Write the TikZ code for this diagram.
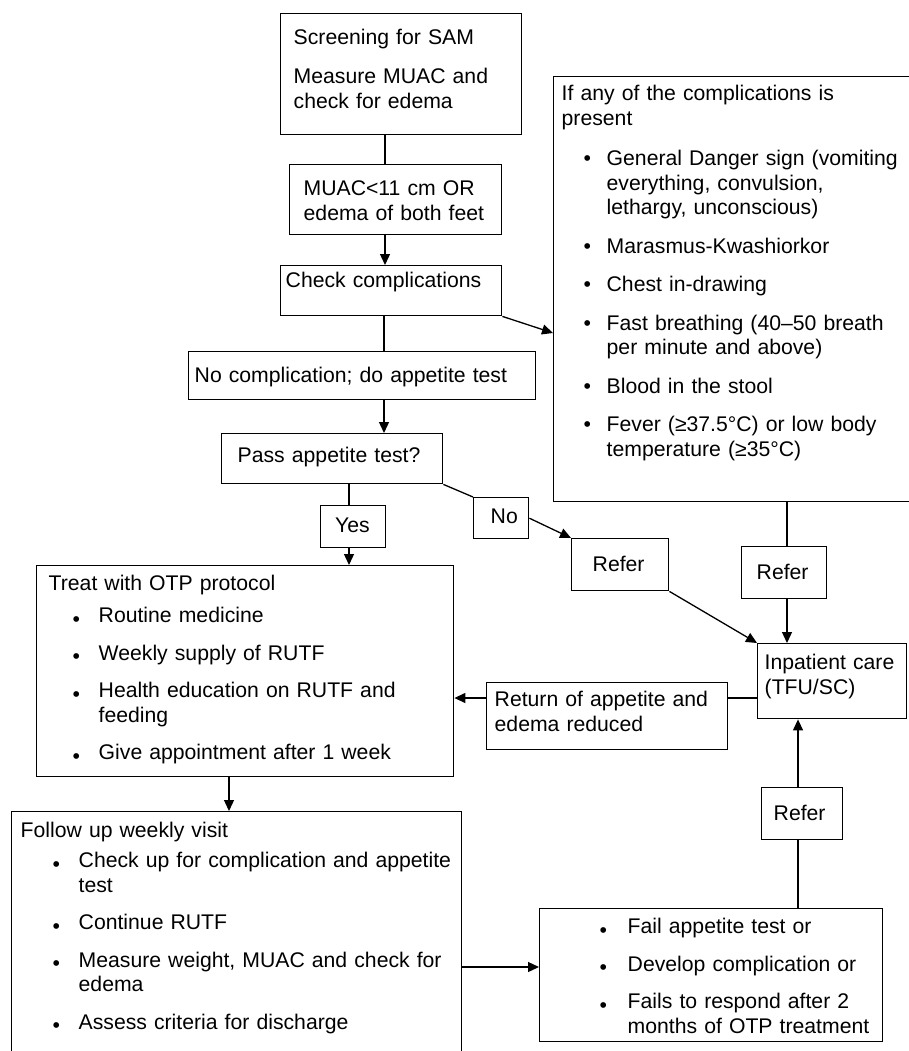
\documentclass[tikz,border=0pt]{standalone}
\usepackage{fontspec}
\setmainfont{Liberation Sans}
\usetikzlibrary{arrows.meta}

\newlength\bpos
\newlength\tpos
\newcommand\boxfont{\fontsize{21.2}{24.5}\selectfont\hyphenpenalty=10000\relax}
% bullet lists inside the boxes
\newcommand\bull[1]{\hangindent=\tpos\hangafter=1\hbox to \tpos{\hskip\bpos#1\hss}\ignorespaces}
\newcommand\itm[1][14pt]{\par\vspace{#1}\noindent\bull{\textbullet}}
\newcommand\ditm[1][13pt]{\par\vspace{#1}\noindent\bull{\raisebox{-3.5pt}{\textbullet}}}

\begin{document}
\begin{tikzpicture}[x=1pt, y=-1pt,
    box/.style={draw, line width=1.4pt, anchor=north west, inner ysep=0pt, align=left, font=\boxfont},
    ln/.style={line width=1.3pt},
    arr/.style={ln, -{Triangle[length=11pt,width=10pt]}}]

    \useasboundingbox (0,0) rectangle (908,1051);

    % Define the boxes
    \node[box, text width=215pt, inner xsep=13pt, text height=31pt, text depth=90pt] (screen) at (280,13)
        {Screening for SAM\\[14.5pt]Measure MUAC and\\check for edema};
    \node[box, text width=184pt, inner xsep=14pt, text height=31pt, text depth=39pt] (muac) at (289,164)
        {MUAC<11 cm OR\\edema of both feet};
    \node[box, text width=211pt, inner xsep=5pt, text height=22pt, text depth=28pt] (check) at (280,265)
        {Check complications};
    \node[box, text width=343pt, inner xsep=8pt, text height=24pt, text depth=401pt] (compl) at (553,76)
        {\bpos=22pt \tpos=45pt
        If any of the complications is\\present
        \itm[16pt] General Danger sign (vomiting\newline everything, convulsion,\newline lethargy, unconscious)
        \itm Marasmus-Kwashiorkor
        \itm Chest in-drawing
        \itm Fast breathing (40–50 breath\newline per minute and above)
        \itm Blood in the stool
        \itm Fever (≥37.5°C) or low body\newline temperature (≥35°C)\par};
    \node[box, text width=335pt, inner xsep=6pt, text height=31pt, text depth=17pt] (nocomp) at (188,351)
        {No complication; do appetite test};
    \node[box, text width=189pt, inner xsep=16pt, text height=29pt, text depth=21pt] (pass) at (221,433)
        {Pass appetite test?};
    \node[box, text width=36pt, inner xsep=14.5pt, text height=27pt, text depth=15pt] (yes) at (320,505) {Yes};
    \node[box, text width=21pt, inner xsep=17pt, text height=26pt, text depth=15pt] (no) at (473,497) {No};
    \node[box, text width=55pt, inner xsep=21pt, text height=33pt, text depth=19pt] (refer1) at (571,538) {Refer};
    \node[box, text width=55pt, inner xsep=15pt, text height=33pt, text depth=19pt] (refer2) at (741,546) {Refer};
    \node[box, text width=135pt, inner xsep=7pt, text height=26pt, text depth=49pt] (inpat) at (757,643)
        {Inpatient care\\(TFU/SC)};
    \node[box, text width=225pt, inner xsep=8pt, text height=24pt, text depth=43pt] (ret) at (486,682)
        {Return of appetite and\\edema reduced};
    \node[box, text width=393pt, inner xsep=12pt, text height=25pt, text depth=186pt] (treat) at (36,565)
        {\bpos=24pt \tpos=50pt
        Treat with OTP protocol
        \ditm[7.5pt] Routine medicine
        \ditm Weekly supply of RUTF
        \ditm Health education on RUTF and\newline feeding
        \ditm Give appointment after 1 week\par};
    \node[box, text width=440pt, inner xsep=5pt, text height=26pt, text depth=240pt] (follow) at (11,811)
        {\bpos=36pt \tpos=62pt
        \hspace*{4pt}Follow up weekly visit
        \ditm[5.5pt] Check up for complication and appetite\newline test
        \ditm Continue RUTF
        \ditm Measure weight, MUAC and check for\newline edema
        \ditm Assess criteria for discharge\par};
    \node[box, text width=323pt, inner xsep=10pt, text height=25pt, text depth=108pt] (fail) at (539,908)
        {\bpos=50pt \tpos=78pt
        \bull{\raisebox{-3.5pt}{\textbullet}}Fail appetite test or
        \ditm Develop complication or
        \ditm Fails to respond after 2\newline months of OTP treatment\par};
    \node[box, text width=57pt, inner xsep=12pt, text height=33pt, text depth=19pt] (refer3) at (761,787) {Refer};

    % Define the connectors
    \coordinate (c1) at (385,0);
    \coordinate (c2) at (384,0);
    \coordinate (c3) at (787,0);
    \coordinate (c4) at (349,0);
    \coordinate (c5) at (0,698);
    \coordinate (c6) at (229,0);
    \coordinate (c7) at (0,967);
    \coordinate (c8) at (798,0);
    \coordinate (c9) at (0,333);
    \draw[ln] (screen.south -| c1) -- (muac.north -| c1);
    \draw[arr] (muac.south -| c1) -- (check.north -| c1);
    \draw[ln] (check.south -| c2) -- (nocomp.north -| c2);
    \draw[arr] (nocomp.south -| c2) -- (pass.north -| c2);
    \draw[arr] (check.south east) -- (compl.west |- c9);
    \draw[ln] (pass.south -| c4) -- (yes.north -| c4);
    \draw[arr] (yes.south -| c4) -- (treat.north -| c4);
    \draw[ln] (pass.south east) -- (no.north west);
    \draw[arr] (no.east) -- (refer1.north west);
    \draw[arr] (refer1.south east) -- (inpat.north west);
    \draw[ln] (compl.south -| c3) -- (refer2.north -| c3);
    \draw[arr] (refer2.south -| c3) -- (inpat.north -| c3);
    \draw[ln] (inpat.west |- c5) -- (ret.east |- c5);
    \draw[arr] (ret.west |- c5) -- (treat.east |- c5);
    \draw[arr] (treat.south -| c6) -- (follow.north -| c6);
    \draw[arr] (follow.east |- c7) -- (fail.west |- c7);
    \draw[ln] (fail.north -| c8) -- (refer3.south -| c8);
    \draw[arr] (refer3.north -| c8) -- (inpat.south -| c8);
\end{tikzpicture}
\end{document}
